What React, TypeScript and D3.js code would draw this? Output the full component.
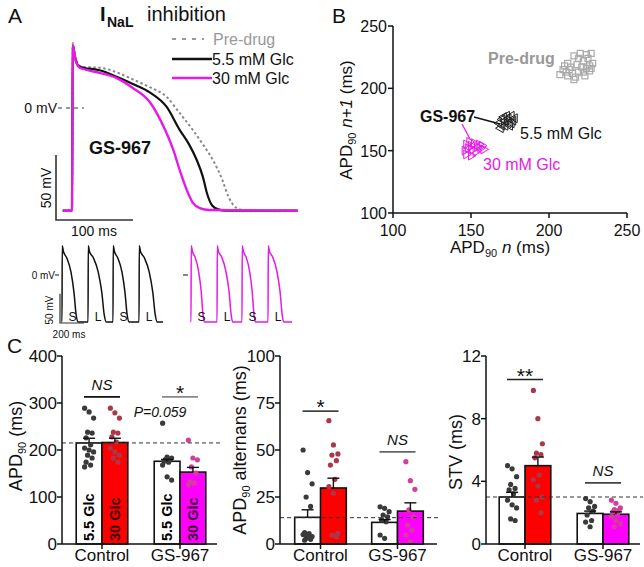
import React from 'react';
import * as d3 from 'd3';

const FONT = "'Liberation Sans', Arial, Helvetica, sans-serif";
const MAGENTA = '#e619e6';

// ---------- Panel A: action potentials (time ms, mV) ----------
const apPreDrug: [number, number][] = [
  [-12, -79], [0, -79], [1, 50], [4, 40], [9, 33], [15, 31.5], [36, 31], [58, 27.5], [79, 22],
  [101, 16], [123, 8.5], [140, -4], [157, -17], [170, -28], [183, -40], [195, -55], [203, -68],
  [210, -75], [218, -78], [230, -79], [293, -79],
];
const apGlc55: [number, number][] = [
  [-12, -79], [0, -79], [1, 48], [4, 39], [9, 32], [15, 31], [36, 29], [58, 24], [79, 18.5],
  [101, 12], [123, 0.8], [140, -17], [152, -28], [162, -40], [170, -53], [175, -65], [182, -75],
  [190, -78], [200, -79], [293, -79],
];
const apGlc30: [number, number][] = [
  [-12, -79], [0, -79], [1, 48], [4, 38], [9, 31.5], [15, 30], [36, 27], [58, 23], [79, 15.4],
  [101, 4.6], [121, -17], [132, -33], [140, -48], [149, -63], [157, -73], [166, -77], [178, -78.5],
  [293, -79],
];

// small alternans traces: beat shapes (ms after upstroke, mV)
const beatOrder = ['S', 'L', 'S', 'L'];
const beatOnsets = [0, 217, 425, 642];
const traceEnd = 842;
const glc55Beats: Record<string, [number, number][]> = {
  S: [[0, -80], [2, 50], [12, 40], [40, 29], [75, 5], [100, -30], [118, -68], [135, -80]],
  L: [[0, -80], [2, 50], [12, 40], [45, 29], [85, 5], [115, -30], [135, -68], [152, -80]],
};
const glc30Beats: Record<string, [number, number][]> = {
  S: [[0, -80], [2, 50], [12, 40], [35, 30], [62, 8], [85, -28], [100, -68], [112, -80]],
  L: [[0, -80], [2, 50], [12, 40], [40, 30], [72, 8], [100, -28], [118, -68], [130, -80]],
};

// ---------- Panel B: Poincaré (APD90 n, APD90 n+1) ----------
const poincarePre: [number, number][] = [
  [212, 220], [216, 226], [220, 228], [224, 227], [227, 228], [219, 224], [222, 222], [225, 224],
  [228, 220], [210, 218], [214, 217], [218, 219], [221, 217], [224, 216], [227, 216], [211, 213],
  [215, 212], [219, 213], [222, 213], [226, 214], [207, 211], [212, 210], [216, 207], [223, 210],
  [226, 218], [217, 209], [213, 215], [209, 215],
];
const poincare55: [number, number][] = [
  [168, 172], [170, 170], [172, 174], [174, 176], [176, 178], [178, 176], [172, 170], [170, 175],
  [174, 172], [177, 174], [169, 168], [173, 178], [175, 170], [171, 177], [176, 172],
];
const poincare30: [number, number][] = [
  [146, 150], [148, 152], [150, 154], [152, 156], [154, 153], [156, 152], [158, 151], [147, 147],
  [150, 146], [153, 149], [155, 155], [149, 157], [151, 151], [157, 154], [147, 155],
];

// ---------- Panel C ----------
const categories = ['Control', 'GS-967'];
const groups = ['5.5 Glc', '30 Glc'];

const apd90Means = [[215, 216], [176, 153]];
const apd90Sem = [[10, 9], [4, 10]];
const apd90Dots = [
  [
    [289, 281, 268, 238, 236, 226, 211, 204, 200, 196, 189, 183, 174, 168, 164],
    [289, 279, 268, 238, 236, 228, 217, 204, 196, 189, 183, 174],
  ],
  [
    [257, 185, 183, 180, 179, 176, 174, 168, 143, 136],
    [221, 183, 179, 164, 151, 132, 130, 126],
  ],
];
const apd90Ref = 215;

const altMeans = [[14.2, 29.8], [11.5, 17.5]];
const altSem = [[4, 5.2], [1.5, 4.4]];
const altDots = [
  [
    [50, 38, 32, 25, 20, 6, 5.5, 5, 4.5, 4, 3, 2.5, 2],
    [65.6, 52.7, 47.9, 47.3, 44.3, 42, 34.4, 30.5, 27, 5.7, 4.8, 3.9],
  ],
  [
    [19.8, 19, 17.2, 15.4, 14.5, 12.8, 11.9, 4.8, 3],
    [43.8, 33.7, 29.1, 18.1, 14.5, 10.1, 7.4, 4.8, 1.2],
  ],
];
const altRef = 14;

const stvMeans = [[3.0, 5.0], [1.95, 1.9]];
const stvSem = [[0.3, 0.55], [0.15, 0.15]];
const stvDots = [
  [
    [5.0, 4.8, 4.3, 3.8, 3.55, 3.45, 3.2, 2.8, 2.5, 2.3, 1.6, 1.5],
    [9.8, 8.0, 6.4, 5.8, 5.7, 5.5, 4.4, 4.1, 3.7, 3.0, 2.8, 2.0],
  ],
  [
    [2.9, 2.7, 2.4, 2.3, 2.1, 1.85, 1.5, 1.4, 1.1],
    [2.8, 2.6, 2.3, 2.2, 2.15, 2.05, 1.9, 1.75, 1.5, 1.3, 1.1],
  ],
];
const stvRef = 3.0;

const barFills = [['#ffffff', '#ff0000'], ['#ffffff', '#ff00ff']];
const dotFills = [['#3a3a3a', '#a8384a'], ['#3a3a3a', '#d0409a']];
const barLabelColors = [['#000000', '#3a0000'], ['#000000', '#3a0030']];

type Annot = { cat: number; value: number; text: string; italic: boolean; lineColor: string; star: boolean };

function buildTrace(beats: Record<string, [number, number][]>): [number, number][] {
  const pts: [number, number][] = [[-4, -80]];
  beatOrder.forEach((b, i) => {
    beats[b].forEach(([t, v]) => pts.push([beatOnsets[i] + t, v]));
  });
  pts.push([traceEnd, -80]);
  return pts;
}

function BarPanel(props: {
  axisX: number; axisEnd: number; band: [number, number]; yMax: number; ticks: number[];
  means: number[][]; sems: number[][]; dots: number[][][]; refValue: number; refEnd: number;
  annots: Annot[]; yLabel: React.ReactNode; yLabelX: number; yLabelY: number; barLabels?: boolean;
  extra?: (x: d3.ScaleBand<string>, y: d3.ScaleLinear<number, number>) => React.ReactNode;
}) {
  const { axisX, axisEnd, band, yMax, ticks, means, sems, dots, refValue, refEnd, annots } = props;
  const y = d3.scaleLinear().domain([0, yMax]).range([544, 356]);
  const x = d3.scaleBand<string>().domain(categories).range(band);
  const bw = 25.8;
  const sub = d3.scaleBand<string>().domain(groups).range([-bw, bw]);
  return (
    <g fontFamily={FONT}>
      {categories.map((c, ci) =>
        groups.map((g, gi) => {
          const cx = (x(c) as number) + x.bandwidth() / 2;
          const left = cx + (sub(g) as number);
          const mid = left + sub.bandwidth() / 2;
          const m = means[ci][gi];
          const s = sems[ci][gi];
          return (
            <g key={c + g}>
              <rect x={left} y={y(m)} width={sub.bandwidth()} height={y(0) - y(m)}
                fill={barFills[ci][gi]} stroke="#111" strokeWidth={1.6} />
              {dots[ci][gi].map((v, i) => (
                <circle key={i} cx={mid + (((i * 3) % 7) - 3) * 1.5} cy={y(v)} r={2.6}
                  fill={dotFills[ci][gi]} />
              ))}
              <line x1={mid} x2={mid} y1={y(m)} y2={y(m + s)} stroke="#111" strokeWidth={1.4} />
              <line x1={mid - 6} x2={mid + 6} y1={y(m + s)} y2={y(m + s)} stroke="#111" strokeWidth={1.4} />
              {props.barLabels && (
                <text transform={`translate(${mid + 5},${y(0) - 3}) rotate(-90)`} fontSize={14.5}
                  fontWeight="bold" fill={barLabelColors[ci][gi]}>{g}</text>
              )}
            </g>
          );
        })
      )}
      <line x1={axisX} x2={refEnd} y1={y(refValue)} y2={y(refValue)} stroke="#333" strokeWidth={1}
        strokeDasharray="4,3" />
      <line x1={axisX} x2={axisX} y1={y(yMax)} y2={y(0)} stroke="#111" strokeWidth={1.5} />
      <line x1={axisX} x2={axisEnd} y1={y(0)} y2={y(0)} stroke="#111" strokeWidth={1.5} />
      {ticks.map((t) => (
        <g key={t}>
          <line x1={axisX - 5} x2={axisX} y1={y(t)} y2={y(t)} stroke="#111" strokeWidth={1.5} />
          <text x={axisX - 5} y={y(t) + 6} fontSize={17} textAnchor="end" fill="#111">{t}</text>
        </g>
      ))}
      {categories.map((c) => {
        const cx = (x(c) as number) + x.bandwidth() / 2;
        return (
          <g key={c}>
            <line x1={cx} x2={cx} y1={y(0)} y2={y(0) + 5} stroke="#111" strokeWidth={1.5} />
            <text x={cx} y={561} fontSize={17} textAnchor="middle" fill="#111">{c}</text>
          </g>
        );
      })}
      {annots.map((a, i) => {
        const cx = (x(categories[a.cat]) as number) + x.bandwidth() / 2;
        const ly = y(a.value);
        return (
          <g key={i}>
            <line x1={cx - 18} x2={cx + 18} y1={ly} y2={ly} stroke={a.lineColor} strokeWidth={1.6} />
            <text x={cx} y={a.star ? ly + 3 : ly - 7} fontSize={a.star ? 21 : 15}
              fontStyle={a.italic ? 'italic' : 'normal'} textAnchor="middle" fill="#111">{a.text}</text>
          </g>
        );
      })}
      {props.extra && props.extra(x, y)}
      <text transform={`translate(${props.yLabelX},${props.yLabelY}) rotate(-90)`} fontSize={18}
        textAnchor="middle" fill="#111">{props.yLabel}</text>
    </g>
  );
}

export default function App() {
  // Panel A
  const xA = d3.scaleLinear().domain([0, 100]).range([72, 149]);
  const yA = d3.scaleLinear().domain([0, 50]).range([108, 43]);
  const lineA = d3.line<[number, number]>().x((d) => xA(d[0])).y((d) => yA(d[1])).curve(d3.curveMonotoneX);

  const xs55 = d3.scaleLinear().domain([0, 1000]).range([62, 182]);
  const xs30 = d3.scaleLinear().domain([0, 1000]).range([191, 311]);
  const ys = d3.scaleLinear().domain([0, -80]).range([275, 322]);
  const lineS55 = d3.line<[number, number]>().x((d) => xs55(d[0])).y((d) => ys(d[1])).curve(d3.curveMonotoneX);
  const lineS30 = d3.line<[number, number]>().x((d) => xs30(d[0])).y((d) => ys(d[1])).curve(d3.curveMonotoneX);

  // Panel B
  const xB = d3.scaleLinear().domain([100, 250]).range([393, 627]);
  const yB = d3.scaleLinear().domain([100, 250]).range([213, 26]);
  const bTicks = [100, 150, 200, 250];
  const tri = d3.symbol(d3.symbolTriangle, 34)() as string;

  return (
    <svg width={644} height={567} style={{ position: 'absolute', left: 0, top: 0, background: '#fff' }}
      fontFamily={FONT}>
      <rect width={644} height={567} fill="#fff" />
      {/* ===== Panel A ===== */}
      <text x={8} y={23} fontSize={21} fill="#111">A</text>
      <text x={100} y={21} fontSize={20} fill="#111" fontWeight="bold">I</text>
      <text x={107} y={27} fontSize={14} fill="#111" fontWeight="bold">NaL</text>
      <text x={147} y={21} fontSize={20} fill="#111">inhibition</text>
      {/* legend */}
      <line x1={172} x2={204} y1={39} y2={39} stroke="#999" strokeWidth={2} strokeDasharray="4,6" />
      <text x={213} y={45} fontSize={16} fill="#999">Pre-drug</text>
      <line x1={172} x2={212} y1={59} y2={59} stroke="#111" strokeWidth={2.4} />
      <text x={212} y={65} fontSize={16} fill="#111">5.5 mM Glc</text>
      <line x1={172} x2={212} y1={78} y2={78} stroke={MAGENTA} strokeWidth={2.4} />
      <text x={212} y={84} fontSize={16} fill="#111">30 mM Glc</text>
      {/* 0 mV marker */}
      <text x={57} y={113} fontSize={14} textAnchor="end" fill="#111">0 mV</text>
      <line x1={58} x2={84} y1={yA(0)} y2={yA(0)} stroke="#333" strokeWidth={1.2} strokeDasharray="4,4" />
      {/* traces */}
      <path d={lineA(apPreDrug) as string} fill="none" stroke="#888" strokeWidth={2} strokeDasharray="2.5,2.5" />
      <path d={lineA(apGlc55) as string} fill="none" stroke="#111" strokeWidth={2.2} />
      <path d={lineA(apGlc30) as string} fill="none" stroke={MAGENTA} strokeWidth={2.4} />
      <text x={120} y={154} fontSize={18} fontWeight="bold" textAnchor="middle" fill="#111">GS-967</text>
      {/* scale bars */}
      <path d={`M56,${220 - (yA(0) - yA(50))}V220H${56 + xA(100) - xA(0)}`} fill="none" stroke="#333" strokeWidth={1.6} />
      <text transform="translate(51,188) rotate(-90)" fontSize={14} textAnchor="middle" fill="#111">50 mV</text>
      <text x={94} y={236} fontSize={14} textAnchor="middle" fill="#111">100 ms</text>

      {/* small alternans traces */}
      <text x={55} y={279} fontSize={10} textAnchor="end" fill="#111">0 mV</text>
      <line x1={55} x2={59} y1={ys(0)} y2={ys(0)} stroke="#111" strokeWidth={1} />
      <line x1={183} x2={188} y1={ys(0)} y2={ys(0)} stroke="#111" strokeWidth={1} />
      <path d={lineS55(buildTrace(glc55Beats)) as string} fill="none" stroke="#111" strokeWidth={1.5} />
      <path d={lineS30(buildTrace(glc30Beats)) as string} fill="none" stroke={MAGENTA} strokeWidth={1.5} />
      {beatOrder.map((b, i) => (
        <g key={i}>
          <text x={xs55(beatOnsets[i] + 55)} y={321} fontSize={12} fill="#111">{b}</text>
          <text x={xs30(beatOnsets[i] + 55)} y={321} fontSize={12} fill="#111">{b}</text>
        </g>
      ))}
      <path d={`M60,${323 - (ys(-50) - ys(0))}V323H${60 + xs55(200) - xs55(0)}`} fill="none" stroke="#333" strokeWidth={1.2} />
      <text transform="translate(53,310) rotate(-90)" fontSize={10} textAnchor="middle" fill="#111">50 mV</text>
      <text x={69} y={338} fontSize={10} textAnchor="middle" fill="#111">200 ms</text>

      {/* ===== Panel B ===== */}
      <text x={332} y={23} fontSize={21} fill="#111">B</text>
      <line x1={xB(100)} x2={xB(100)} y1={yB(250)} y2={yB(100)} stroke="#111" strokeWidth={1.5} />
      <line x1={xB(100)} x2={xB(250)} y1={yB(100)} y2={yB(100)} stroke="#111" strokeWidth={1.5} />
      {bTicks.map((t) => (
        <g key={t}>
          <line x1={xB(100) - 5} x2={xB(100)} y1={yB(t)} y2={yB(t)} stroke="#111" strokeWidth={1.5} />
          <text x={xB(100) - 6} y={yB(t) + 6} fontSize={16} textAnchor="end" fill="#111">{t}</text>
          <line x1={xB(t)} x2={xB(t)} y1={yB(100)} y2={yB(100) + 5} stroke="#111" strokeWidth={1.5} />
          <text x={xB(t)} y={yB(100) + 23} fontSize={16} textAnchor="middle" fill="#111">{t}</text>
        </g>
      ))}
      {poincarePre.map((d, i) => (
        <rect key={i} x={xB(d[0]) - 3} y={yB(d[1]) - 3} width={6} height={6} fill="none" stroke="#aaa" strokeWidth={1.2} />
      ))}
      {poincare55.map((d, i) => (
        <path key={i} d={tri} transform={`translate(${xB(d[0])},${yB(d[1])}) rotate(-90)`} fill="none" stroke="#222" strokeWidth={1} />
      ))}
      {poincare30.map((d, i) => (
        <path key={i} d={tri} transform={`translate(${xB(d[0])},${yB(d[1])}) rotate(90)`} fill="none" stroke={MAGENTA} strokeWidth={1} />
      ))}
      <text x={488} y={64} fontSize={16} fontWeight="bold" fill="#999">Pre-drug</text>
      <text x={420} y={122} fontSize={16} fontWeight="bold" fill="#111">GS-967</text>
      <line x1={474} x2={500} y1={117} y2={124} stroke="#111" strokeWidth={1.3} />
      <line x1={462} x2={470} y1={124} y2={139} stroke={MAGENTA} strokeWidth={1.3} />
      <text x={520} y={139} fontSize={16} fill="#111">5.5 mM Glc</text>
      <text x={483} y={170} fontSize={16} fill={MAGENTA}>30 mM Glc</text>
      <text transform="translate(352,120) rotate(-90)" fontSize={17} textAnchor="middle" fill="#111">
        APD<tspan fontSize={11} dy={4}>90</tspan><tspan dy={-4}> </tspan><tspan fontStyle="italic">n+1</tspan> (ms)
      </text>
      <text x={500} y={253} fontSize={17} textAnchor="middle" fill="#111">
        APD<tspan fontSize={11} dy={4}>90</tspan><tspan dy={-4}> </tspan><tspan fontStyle="italic">n</tspan> (ms)
      </text>

      {/* ===== Panel C ===== */}
      <text x={7} y={353} fontSize={21} fill="#111">C</text>
      <BarPanel axisX={62} axisEnd={217} band={[63, 219]} yMax={400} ticks={[0, 100, 200, 300, 400]}
        means={apd90Means} sems={apd90Sem} dots={apd90Dots} refValue={apd90Ref} refEnd={222}
        annots={[
          { cat: 0, value: 313, text: 'NS', italic: true, lineColor: '#111', star: false },
          { cat: 1, value: 313, text: '*', italic: false, lineColor: '#888', star: true },
        ]}
        yLabel={<>APD<tspan fontSize={11} dy={4}>90</tspan><tspan dy={-4}> (ms)</tspan></>}
        yLabelX={22} yLabelY={446} barLabels
        extra={(x) => (
          <text x={(x('GS-967') as number) + x.bandwidth() / 2 - 20} y={417} fontSize={14}
            fontStyle="italic" textAnchor="middle" fill="#111">P=0.059</text>
        )}
      />
      <BarPanel axisX={280} axisEnd={437} band={[282, 436]} yMax={100} ticks={[0, 25, 50, 75, 100]}
        means={altMeans} sems={altSem} dots={altDots} refValue={altRef} refEnd={438}
        annots={[
          { cat: 0, value: 70.7, text: '*', italic: false, lineColor: '#444', star: true },
          { cat: 1, value: 49, text: 'NS', italic: true, lineColor: '#666', star: false },
        ]}
        yLabel={<>APD<tspan fontSize={11} dy={4}>90</tspan><tspan dy={-4}> alternans (ms)</tspan></>}
        yLabelX={246} yLabelY={450}
      />
      <BarPanel axisX={486} axisEnd={640} band={[486, 642]} yMax={12} ticks={[0, 4, 8, 12]}
        means={stvMeans} sems={stvSem} dots={stvDots} refValue={stvRef} refEnd={643}
        annots={[
          { cat: 0, value: 10.5, text: '**', italic: false, lineColor: '#222', star: true },
          { cat: 1, value: 3.9, text: 'NS', italic: true, lineColor: '#444', star: false },
        ]}
        yLabel={<>STV (ms)</>}
        yLabelX={462} yLabelY={452}
      />
    </svg>
  );
}
